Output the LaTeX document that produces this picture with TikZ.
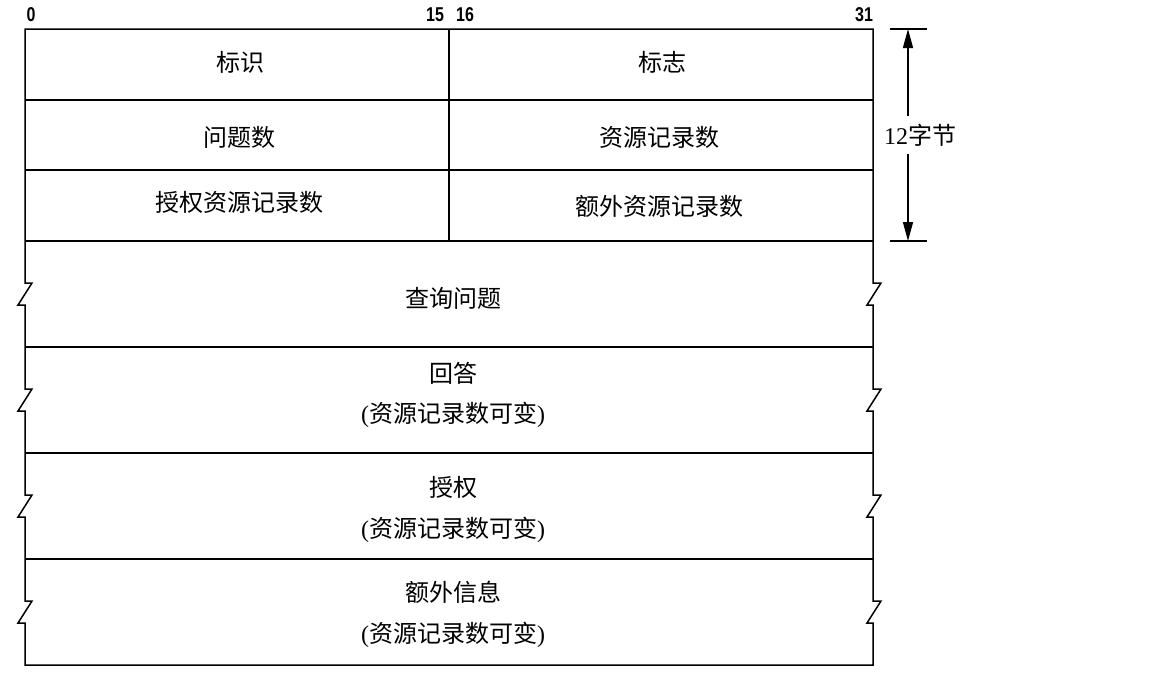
\documentclass[tikz,border=0pt]{standalone}
\usepackage{fontspec}
\setmainfont{Liberation Serif}
\newfontfamily\cjk{Noto Sans CJK SC}
\newfontfamily\numfont[FakeStretch=0.8]{Liberation Sans}
\usetikzlibrary{arrows.meta}
\begin{document}
\begin{tikzpicture}[x=1pt,y=-1pt,
  frame/.style={line width=1.5pt, line join=miter},
  rule/.style={line width=1.5pt},
  field/.style={font=\fontsize{24}{28}\selectfont\cjk, inner sep=0pt, anchor=center},
  bitnum/.style={font=\fontsize{20}{22}\selectfont\numfont\bfseries, inner sep=0pt, anchor=center},
  dim/.style={line width=1.5pt, -{Triangle[length=19pt,width=10pt]}},
  tick/.style={line width=1.5pt}]
\useasboundingbox (0,0) rectangle (1152,691);
% outer frame with break marks
\draw[frame] (25,29) -- (25,283) -- (32,283) -- (18,305) -- (25,305)
  -- (25,389) -- (32,389) -- (18,411) -- (25,411)
  -- (25,495) -- (32,495) -- (18,517) -- (25,517)
  -- (25,601) -- (32,601) -- (18,623) -- (25,623)
  -- (25,665) -- (873,665)
  -- (873,623) -- (867,623) -- (881,601) -- (873,601)
  -- (873,517) -- (867,517) -- (881,495) -- (873,495)
  -- (873,411) -- (867,411) -- (881,389) -- (873,389)
  -- (873,305) -- (867,305) -- (881,283) -- (873,283)
  -- (873,29) -- cycle;
% row rules
\foreach \y in {100,170,241,347,453,559} \draw[rule] (25,\y) -- (873,\y);
\draw[rule] (449,29) -- (449,241);
% bit numbers
\node[bitnum] (b0) at (31,15) {0};
\node[bitnum] (b15) at (435,15) {15};
\node[bitnum] (b16) at (465,15) {16};
\node[bitnum] (b31) at (864,15) {31};
% fields
\node[field] (id) at (240,62) {标识};
\node[field] (flags) at (662,62) {标志};
\node[field] (qd) at (239,137) {问题数};
\node[field] (an) at (659,137) {资源记录数};
\node[field] (ns) at (239,202) {授权资源记录数};
\node[field] (ar) at (659,206) {额外资源记录数};
\node[field] (q) at (453,298) {查询问题};
\node[field] (ans) at (453,373) {回答};
\node[field] (ansv) at (453,415) {{\rmfamily(}资源记录数可变{\rmfamily)}};
\node[field] (auth) at (453,487) {授权};
\node[field] (authv) at (453,530) {{\rmfamily(}资源记录数可变{\rmfamily)}};
\node[field] (add) at (453,592) {额外信息};
\node[field] (addv) at (453,635) {{\rmfamily(}资源记录数可变{\rmfamily)}};
% size dimension
\coordinate (ttop) at (908,29);
\coordinate (tbot) at (908,241);
\draw[tick] (890,29) -- (927,29);
\draw[tick] (890,241) -- (927,241);
\node[font=\fontsize{24}{28}\selectfont, inner sep=0pt, minimum height=38pt] (len) at (920,135) {12{\cjk 字节}};
\draw[dim] (len.north -| ttop) -- (ttop);
\draw[dim] (len.south -| tbot) -- (tbot);
\end{tikzpicture}
\end{document}
